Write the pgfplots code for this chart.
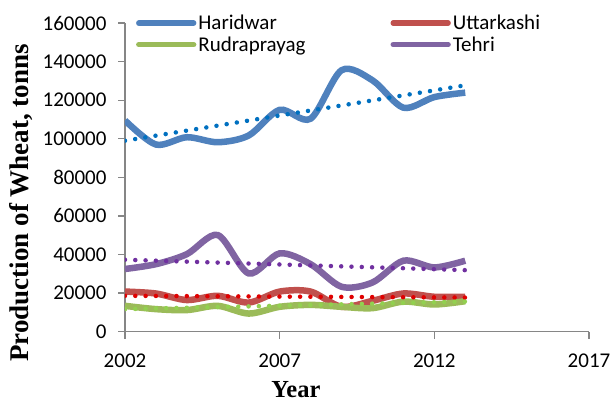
\documentclass[border=0pt]{standalone}
\usepackage{fontspec}
\setmainfont{Liberation Serif}
\newfontfamily\calfont{Carlito}
\usepackage{pgfplots}
\pgfplotsset{compat=1.18}
\definecolor{cHar}{HTML}{4F81BD}
\definecolor{cUtt}{HTML}{C0504D}
\definecolor{cRud}{HTML}{9BBB59}
\definecolor{cTeh}{HTML}{8064A2}
\definecolor{tHar}{HTML}{0070C0}
\definecolor{tUtt}{HTML}{E00000}
\definecolor{tRud}{HTML}{92D050}
\definecolor{tTeh}{HTML}{7030A0}
\definecolor{axgray}{HTML}{868686}
\begin{document}
\begin{tikzpicture}
\begin{axis}[
  scale only axis, width=464pt, height=308.7pt,
  xmin=2002, xmax=2017, ymin=0, ymax=160000,
  axis x line*=bottom, axis y line*=left,
  axis line style={-, draw=axgray, line width=1.3pt},
  xtick={2002,2007,2012,2017}, ytick={0,20000,...,160000},
  tick align=outside, major tick length=7pt,
  tick style={draw=axgray, line width=1.3pt},
  scaled y ticks=false, scaled x ticks=false,
  /pgf/number format/assume math mode=true,
  /pgf/number format/fixed,
  /pgf/number format/precision=0,
  /pgf/number format/1000 sep={},
  ticklabel style={font=\fontsize{21}{24}\calfont},
  xticklabel style={yshift=-12pt},
  yticklabel style={xshift=-8pt},
  xlabel={Year}, ylabel={Production of Wheat, tonns},
  xlabel style={font=\fontsize{24.5}{28}\selectfont\bfseries, inner sep=0pt, at={(axis description cs:0.3685,-0.186)}, anchor=center},
  ylabel style={font=\fontsize{27}{32}\selectfont\bfseries, at={(axis description cs:-0.224,0.417)}, anchor=center},
  legend columns=2, legend cell align=left,
  legend style={at={(axis description cs:0.017,1.0395)}, anchor=north west, draw=none, fill=none,
    font=\fontsize{21}{24}\calfont, row sep=1.5pt, /tikz/every even column/.append style={column sep=83pt}},
  legend image code/.code={\draw[#1, line width=5.3pt, line cap=round] (0pt,0pt) -- (55pt,0pt);},
  every axis plot/.append style={line width=6.5pt, smooth, tension=0.5},
]
\addplot[cHar] coordinates {(2002,109500) (2003,97000) (2004,100800) (2005,98200) (2006,101700) (2007,115000) (2008,110400) (2009,135500) (2010,130300) (2011,116100) (2012,121600) (2013,123900)};
\addlegendentry{Haridwar}
\addplot[cUtt] coordinates {(2002,20800) (2003,19800) (2004,16400) (2005,18600) (2006,15100) (2007,20800) (2008,20800) (2009,12900) (2010,16000) (2011,19800) (2012,18100) (2013,18100)};
\addlegendentry{Uttarkashi}
\addplot[cRud] coordinates {(2002,13400) (2003,11700) (2004,11200) (2005,13400) (2006,9400) (2007,12900) (2008,13900) (2009,12900) (2010,12200) (2011,15600) (2012,14100) (2013,15800)};
\addlegendentry{Rudraprayag}
\addplot[cTeh] coordinates {(2002,32500) (2003,35000) (2004,40200) (2005,50100) (2006,30200) (2007,40600) (2008,35000) (2009,23300) (2010,25500) (2011,36800) (2012,33300) (2013,36800)};
\addlegendentry{Tehri}
\addplot[tHar, line width=4.5pt, line cap=round, dash pattern=on 0pt off 10.3pt, forget plot] coordinates {(2002,99000) (2013,127700)};
\addplot[tUtt, line width=4.5pt, line cap=round, dash pattern=on 0pt off 10.3pt, forget plot] coordinates {(2002,18600) (2013,17700)};
\addplot[tRud, line width=4.5pt, line cap=round, dash pattern=on 0pt off 10.3pt, forget plot] coordinates {(2002,11700) (2013,15600)};
\addplot[tTeh, line width=4.5pt, line cap=round, dash pattern=on 0pt off 10.3pt, forget plot] coordinates {(2002,37300) (2013,31900)};
\end{axis}
\path (-125pt,-69.3pt) rectangle (489pt,331.7pt);
\end{tikzpicture}
\end{document}
